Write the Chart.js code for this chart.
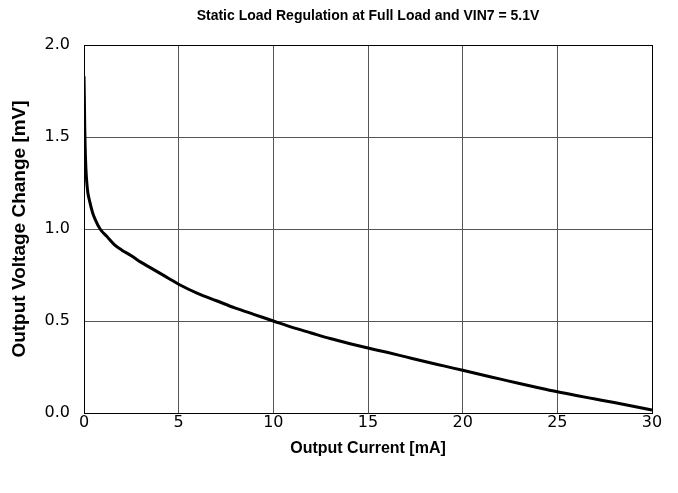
<!DOCTYPE html>
<html>
<head>
<meta charset="utf-8">
<script src="https://cdn.jsdelivr.net/npm/chart.js@4/dist/chart.umd.min.js"></script>
<style>
  html, body { margin: 0; padding: 0; background: #fff; }
  #c { display: block; }
</style>
</head>
<body>
<canvas id="c" width="678" height="493"></canvas>
<script>
const chartTitle = 'Static Load Regulation at Full Load and VIN7 = 5.1V';
const xTitle = 'Output Current [mA]';
const yTitle = 'Output Voltage Change [mV]';

const outputCurrent = [0, 0.02, 0.04, 0.06, 0.1, 0.15, 0.2, 0.3, 0.45, 0.6, 0.85, 1.2, 1.6, 2.0, 2.5, 3, 3.5, 4, 4.5, 5, 6, 7, 8, 9, 10, 11, 12, 13, 14, 15, 16, 17, 18, 19, 20, 21, 22, 23, 24, 25, 26, 27, 28, 29, 30];
const voltageChange = [1.83, 1.70, 1.55, 1.45, 1.33, 1.25, 1.20, 1.15, 1.09, 1.05, 1.00, 0.96, 0.915, 0.885, 0.855, 0.82, 0.79, 0.76, 0.73, 0.70, 0.65, 0.61, 0.57, 0.535, 0.50, 0.465, 0.435, 0.405, 0.378, 0.353, 0.33, 0.305, 0.28, 0.256, 0.232, 0.208, 0.184, 0.16, 0.137, 0.115, 0.095, 0.076, 0.057, 0.037, 0.016];

const xTickValues = [0, 5, 10, 15, 20, 25, 30];
const xTickLabels = ['0', '5', '10', '15', '20', '25', '30'];
const yTickValues = [0, 0.5, 1.0, 1.5, 2.0];
const yTickLabels = ['0.0', '0.5', '1.0', '1.5', '2.0'];

const points = outputCurrent.map((x, i) => ({ x: x, y: voltageChange[i] }));

function labelFor(values, labels, v) {
  const i = values.findIndex(t => Math.abs(t - v) < 1e-9);
  return i >= 0 ? labels[i] : '';
}

new Chart(document.getElementById('c').getContext('2d'), {
  type: 'scatter',
  data: {
    datasets: [{
      data: points,
      showLine: true,
      borderColor: '#000',
      backgroundColor: '#000',
      borderWidth: 3,
      pointRadius: 0,
      cubicInterpolationMode: 'monotone',
      fill: false
    }]
  },
  options: {
    responsive: false,
    animation: false,
    devicePixelRatio: 1,
    layout: { padding: { left: 0, right: 26, top: 0, bottom: 0 } },
    plugins: {
      legend: { display: false },
      tooltip: { enabled: false },
      title: {
        display: true,
        fullSize: false,
        text: chartTitle,
        color: '#000',
        font: { family: 'Liberation Sans', size: 14, weight: 'bold' },
        padding: { top: 8, bottom: 20.2 }
      }
    },
    scales: {
      x: {
        type: 'linear',
        min: 0, max: 30,
        afterBuildTicks: s => { s.ticks = xTickValues.map(v => ({ value: v })); },
        afterFit: s => { s.height = 80; },
        ticks: {
          color: '#000',
          padding: 0,
          maxRotation: 0,
          font: { family: 'DejaVu Sans', size: 16 },
          callback: v => labelFor(xTickValues, xTickLabels, v)
        },
        grid: {
          drawTicks: false,
          lineWidth: 1,
          color: c => (c.tick && c.tick.value === 30) ? '#000' : '#555'
        },
        border: { display: true, color: '#000', width: 1 },
        title: {
          display: true,
          text: xTitle,
          color: '#000',
          font: { family: 'Liberation Sans', size: 16, weight: 'bold' },
          padding: { top: 0, bottom: 34.4 }
        }
      },
      y: {
        type: 'linear',
        min: 0, max: 2,
        afterBuildTicks: s => { s.ticks = yTickValues.map(v => ({ value: v })); },
        afterFit: s => { s.width = 84; },
        ticks: {
          color: '#000',
          padding: 14,
          font: { family: 'DejaVu Sans', size: 16 },
          callback: v => labelFor(yTickValues, yTickLabels, v)
        },
        grid: {
          drawTicks: false,
          lineWidth: 1,
          color: c => (c.tick && c.tick.value === 2) ? '#000' : '#555'
        },
        border: { display: true, color: '#000', width: 1 },
        title: {
          display: true,
          text: yTitle,
          color: '#000',
          font: { family: 'Liberation Sans', size: 19, weight: 'bold' },
          padding: { top: 8.6, bottom: 0 }
        }
      }
    }
  }
});
</script>
</body>
</html>
